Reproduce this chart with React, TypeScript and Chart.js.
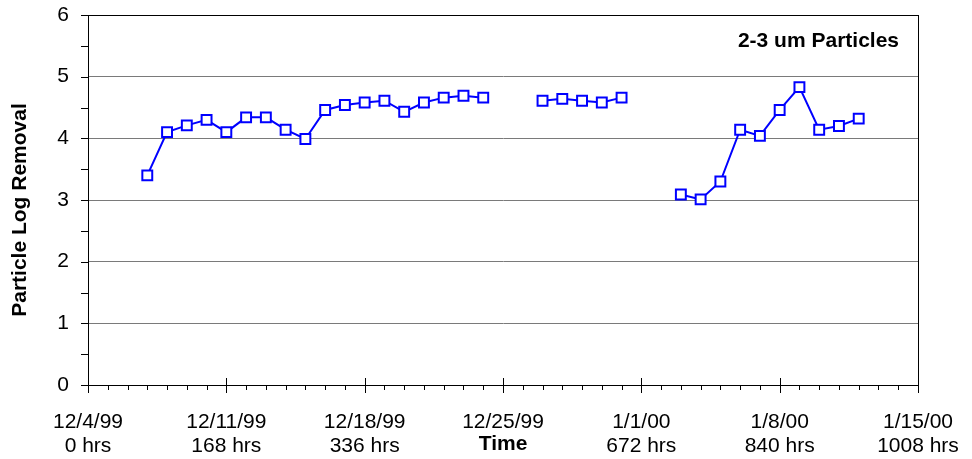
import React, { useEffect, useRef } from "react";
import { Chart, registerables } from "chart.js";

Chart.register(...registerables);

// Days since 12/4/99; null marks a gap in the record
const days = [3, 4, 5, 6, 7, 8, 9, 10, 11, 12, 13, 14, 15, 16, 17, 18, 19, 20, 21, 23, 24, 25, 26, 27, 28, 30, 31, 32, 33, 34, 35, 36, 37, 38, 39];
const logRemoval = [3.40, 4.10, 4.21, 4.30, 4.10, 4.34, 4.34, 4.14, 3.99, 4.46, 4.54, 4.58, 4.61, 4.43, 4.58, 4.66, 4.69, 4.66, null, 4.61, 4.64, 4.61, 4.58, 4.66, null, 3.09, 3.01, 3.30, 4.14, 4.04, 4.46, 4.83, 4.14, 4.20, 4.32];

const weekDates = ["12/4/99", "12/11/99", "12/18/99", "12/25/99", "1/1/00", "1/8/00", "1/15/00"];
const weekHours = ["0 hrs", "168 hrs", "336 hrs", "", "672 hrs", "840 hrs", "1008 hrs"];

const seriesLabel = "2-3 um Particles";
const yTitle = "Particle Log Removal";
const xTitle = "Time";

const FONT = "'Liberation Sans', Arial, Helvetica, sans-serif";

const decorPlugin = {
  id: "decor",
  afterDraw(chart: any) {
    const ctx = chart.ctx;
    const xs = chart.scales.x;
    const ys = chart.scales.y;
    const area = chart.chartArea;
    ctx.save();
    ctx.strokeStyle = "#000";
    ctx.lineWidth = 1;
    // top and right border
    ctx.beginPath();
    ctx.moveTo(area.left, Math.round(area.top) + 0.5);
    ctx.lineTo(area.right, Math.round(area.top) + 0.5);
    ctx.moveTo(Math.round(area.right) + 0.5, area.top);
    ctx.lineTo(Math.round(area.right) + 0.5, area.bottom);
    ctx.stroke();
    // x ticks
    ctx.beginPath();
    for (let d = 0; d <= 42; d++) {
      const px = Math.round(xs.getPixelForValue(d)) + 0.5;
      if (d % 7 === 0) {
        ctx.moveTo(px, area.bottom - 7);
        ctx.lineTo(px, area.bottom + 8);
      } else {
        ctx.moveTo(px, area.bottom);
        ctx.lineTo(px, area.bottom + 5);
      }
    }
    // y ticks
    for (let v = 0; v <= 6; v += 0.5) {
      const py = Math.round(ys.getPixelForValue(v)) + 0.5;
      ctx.moveTo(area.left - 7, py);
      ctx.lineTo(area.left, py);
    }
    ctx.stroke();

    ctx.fillStyle = "#000";
    ctx.font = `bold 21px ${FONT}`;
    // series label
    ctx.textAlign = "right";
    ctx.textBaseline = "alphabetic";
    ctx.fillText(seriesLabel, 899, 47);
    // x title on hours line
    ctx.textAlign = "center";
    ctx.fillText(xTitle, xs.getPixelForValue(21), 450);
    // y title
    ctx.translate(26, (area.top + area.bottom) / 2 + 10);
    ctx.rotate(-Math.PI / 2);
    ctx.textAlign = "center";
    ctx.fillText(yTitle, 0, 0);
    ctx.restore();
  },
};

export default function App() {
  const ref = useRef<HTMLCanvasElement>(null);
  useEffect(() => {
    if (!ref.current) return;
    const chart = new Chart(ref.current, {
      type: "line",
      data: {
        datasets: [
          {
            label: seriesLabel,
            data: days.map((d, i) => ({ x: d, y: logRemoval[i] })) as any,
            borderColor: "#0000FF",
            borderWidth: 2,
            pointStyle: "rect",
            pointRadius: 7,
            pointBorderWidth: 2,
            pointBackgroundColor: "#FFFFFF",
            pointBorderColor: "#0000FF",
            spanGaps: false,
            tension: 0,
          },
        ],
      },
      options: {
        responsive: false,
        animation: false,
        layout: { padding: { top: 15, right: 54, left: 0, bottom: 0 } },
        plugins: { legend: { display: false }, tooltip: { enabled: false }, title: { display: false } },
        scales: {
          x: {
            type: "linear",
            min: 0,
            max: 42,
            grid: { display: false },
            border: { display: true, color: "#000", width: 1 },
            ticks: {
              stepSize: 1,
              autoSkip: false,
              maxRotation: 0,
              padding: 17,
              color: "#000",
              font: { family: FONT, size: 21, lineHeight: 1.15 },
              callback: (v: any) => {
                const n = Number(v);
                if (n % 7 !== 0) return "";
                const i = n / 7;
                return [weekDates[i], weekHours[i]];
              },
            },
            afterFit: (s: any) => {
              s.height = 74;
              s.paddingLeft = 0;
              s.paddingRight = 0;
              s.paddingTop = 0;
              s.paddingBottom = 0;
            },
          },
          y: {
            min: 0,
            max: 6,
            grid: {
              drawTicks: false,
              color: (c: any) => (c.tick && c.tick.value === 0 ? "rgba(0,0,0,0)" : c.tick && c.tick.value === 6 ? "#000" : "#7a7a7a"),
              lineWidth: 1,
            },
            border: { display: true, color: "#000", width: 1 },
            ticks: {
              stepSize: 1,
              padding: 19,
              color: "#000",
              font: { family: FONT, size: 21 },
            },
            afterFit: (s: any) => {
              s.width = 88;
              s.paddingLeft = 0;
              s.paddingRight = 0;
              s.paddingTop = 0;
              s.paddingBottom = 0;
            },
          },
        },
      },
      plugins: [decorPlugin],
    });
    return () => chart.destroy();
  }, []);
  return (
    <div style={{ position: "fixed", left: 0, top: 0, width: 972, height: 459, background: "#fff" }}>
      <canvas ref={ref} width={972} height={459} style={{ width: 972, height: 459 }} />
    </div>
  );
}
